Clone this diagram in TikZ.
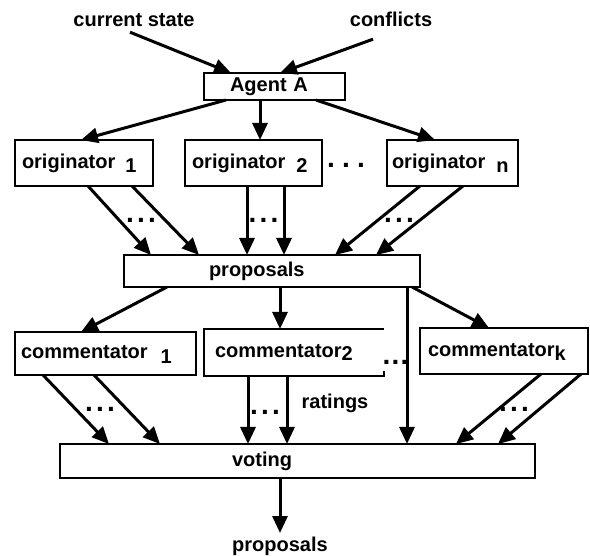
\documentclass[tikz,border=0pt]{standalone}
\usepackage{fontspec}
\setmainfont{Liberation Sans}
\usetikzlibrary{arrows.meta}
\tikzset{
  box/.style={draw, line width=2.4pt, inner ysep=0pt, outer sep=0pt, align=left,
    text height=15pt, text depth=4pt, font=\fontsize{20}{22}\selectfont\bfseries},
  lbl/.style={inner sep=0pt, outer sep=0pt, anchor=base, font=\fontsize{20}{22}\selectfont\bfseries},
  dotlbl/.style={lbl, font=\fontsize{28}{30}\selectfont\bfseries},
  arr/.style={line width=3pt, -{Triangle[length=17pt,width=15pt]}},
}
\newcommand\mkbox[8][]{%
  \pgfmathsetmacro\bw{#5-#3}\pgfmathsetmacro\bh{#6-#4}\pgfmathsetmacro\tw{#5-#3-2*#7}%
  \node[box,#1,minimum width=\bw pt,minimum height=\bh pt,text width=\tw pt,inner xsep=#7pt]
    (#2) at ({(#3+#5)/2},{(#4+#6)/2}) {#8};}
\newcommand\dts[1]{.\hspace{#1}.\hspace{#1}.}
\begin{document}
\begin{tikzpicture}[x=1pt,y=-1pt]
\useasboundingbox (0,0) rectangle (590,556);
% texts
\node[lbl] (cs) at (134,27) {current state};
\node[lbl] (cf) at (391,27) {conflicts};
\node[lbl] (rt) at (335,409) {ratings};
\node[lbl] (out) at (280,551) {proposals};
% boxes
\mkbox{A}{204}{73}{345}{100}{26}{Agent A}
\mkbox{o1}{15}{140}{153}{186}{7}{originator\hspace{10pt}\raisebox{-4pt}{1}}
\mkbox{o2}{185}{140}{322}{186}{7}{originator\hspace{11pt}\raisebox{-4pt}{2}}
\mkbox{on}{387}{140}{518}{186}{5}{originator\hspace{11pt}\raisebox{-4pt}{n}}
\mkbox{prop}{124}{255}{420}{287}{85}{proposals}
\mkbox{c1}{15}{332}{196}{375}{6}{commentator\hspace{13pt}\raisebox{-5pt}{1}}
\mkbox[draw=none]{c2}{204}{329}{384}{376}{11}{commentator\raisebox{-3pt}{2}}
\mkbox{ck}{420}{328}{588}{374}{8}{commentator\raisebox{-4pt}{k}}
\mkbox{vote}{60}{444}{535}{478}{172}{voting}
\draw[line width=2.4pt] (c2.north east) -- (c2.north west) -- (c2.south west) -- (c2.south east) -- ([yshift=5pt]c2.south east);
% dots
\node[dotlbl] (dO) at (346,168) {\dts{7.2pt}};
\node[dotlbl] (d1) at (141,223) {\dts{3.2pt}};
\node[dotlbl] (d2) at (263.5,223) {\dts{3.2pt}};
\node[dotlbl] (d3) at (399,223) {\dts{3.2pt}};
\node[dotlbl] (dC) at (395.5,365) {\dts{1.2pt}};
\node[dotlbl] (d4) at (100,412) {\dts{3.2pt}};
\node[dotlbl] (d5) at (265,415) {\dts{3.2pt}};
\node[dotlbl] (d6) at (514,412) {\dts{3.2pt}};
% arrows
\draw[arr] ([xshift=-4pt,yshift=-5pt]cs.south) -- ([xshift=-43.5pt]A.north);
\draw[arr] ([xshift=-18pt,yshift=-12pt]cf.south) -- ([xshift=5.5pt]A.north);
\draw[arr] ([xshift=-48.5pt]A.south) -- ([xshift=-3pt]o1.north);
\draw[arr] ([xshift=-14.5pt]A.south) -- ([xshift=6.5pt]o2.north);
\draw[arr] ([xshift=41.5pt]A.south) -- ([xshift=-17.5pt]on.north);
\draw[arr] ([xshift=4pt]o1.south) -- ([xshift=-121pt]prop.north);
\draw[arr] ([xshift=48pt]o1.south) -- ([xshift=-73pt]prop.north);
\draw[arr] ([xshift=-6.5pt]o2.south) -- ([xshift=-25pt]prop.north);
\draw[arr] ([xshift=30.5pt]o2.south) -- ([xshift=12pt]prop.north);
\draw[arr] ([xshift=-32.5pt]on.south) -- ([xshift=63pt]prop.north);
\draw[arr] ([xshift=10.5pt]on.south) -- ([xshift=104pt]prop.north);
\draw[arr] ([xshift=-105pt]prop.south) -- ([xshift=-24.5pt]c1.north);
\draw[arr] ([xshift=8pt]prop.south) -- ([xshift=-14pt]c2.north);
\draw[arr] ([xshift=140pt]prop.south) -- ([xshift=-15pt]ck.north);
\draw[arr] ([xshift=135pt]prop.south) -- ([xshift=109.5pt]vote.north);
\draw[arr] ([xshift=-62.5pt]c1.south) -- ([xshift=-188.5pt]vote.north);
\draw[arr] ([xshift=-11.5pt]c1.south) -- ([xshift=-137.5pt]vote.north);
\draw[arr] ([xshift=-46pt]c2.south) -- ([xshift=-49.5pt]vote.north);
\draw[arr] ([xshift=-7pt]c2.south) -- ([xshift=-10.5pt]vote.north);
\draw[arr] ([xshift=37pt]ck.south) -- ([xshift=158.5pt]vote.north);
\draw[arr] ([xshift=77pt]ck.south) -- ([xshift=200.5pt]vote.north);
\draw[arr] ([xshift=-17.5pt]vote.south) -- ([yshift=3.5pt]out.north);
\end{tikzpicture}
\end{document}
